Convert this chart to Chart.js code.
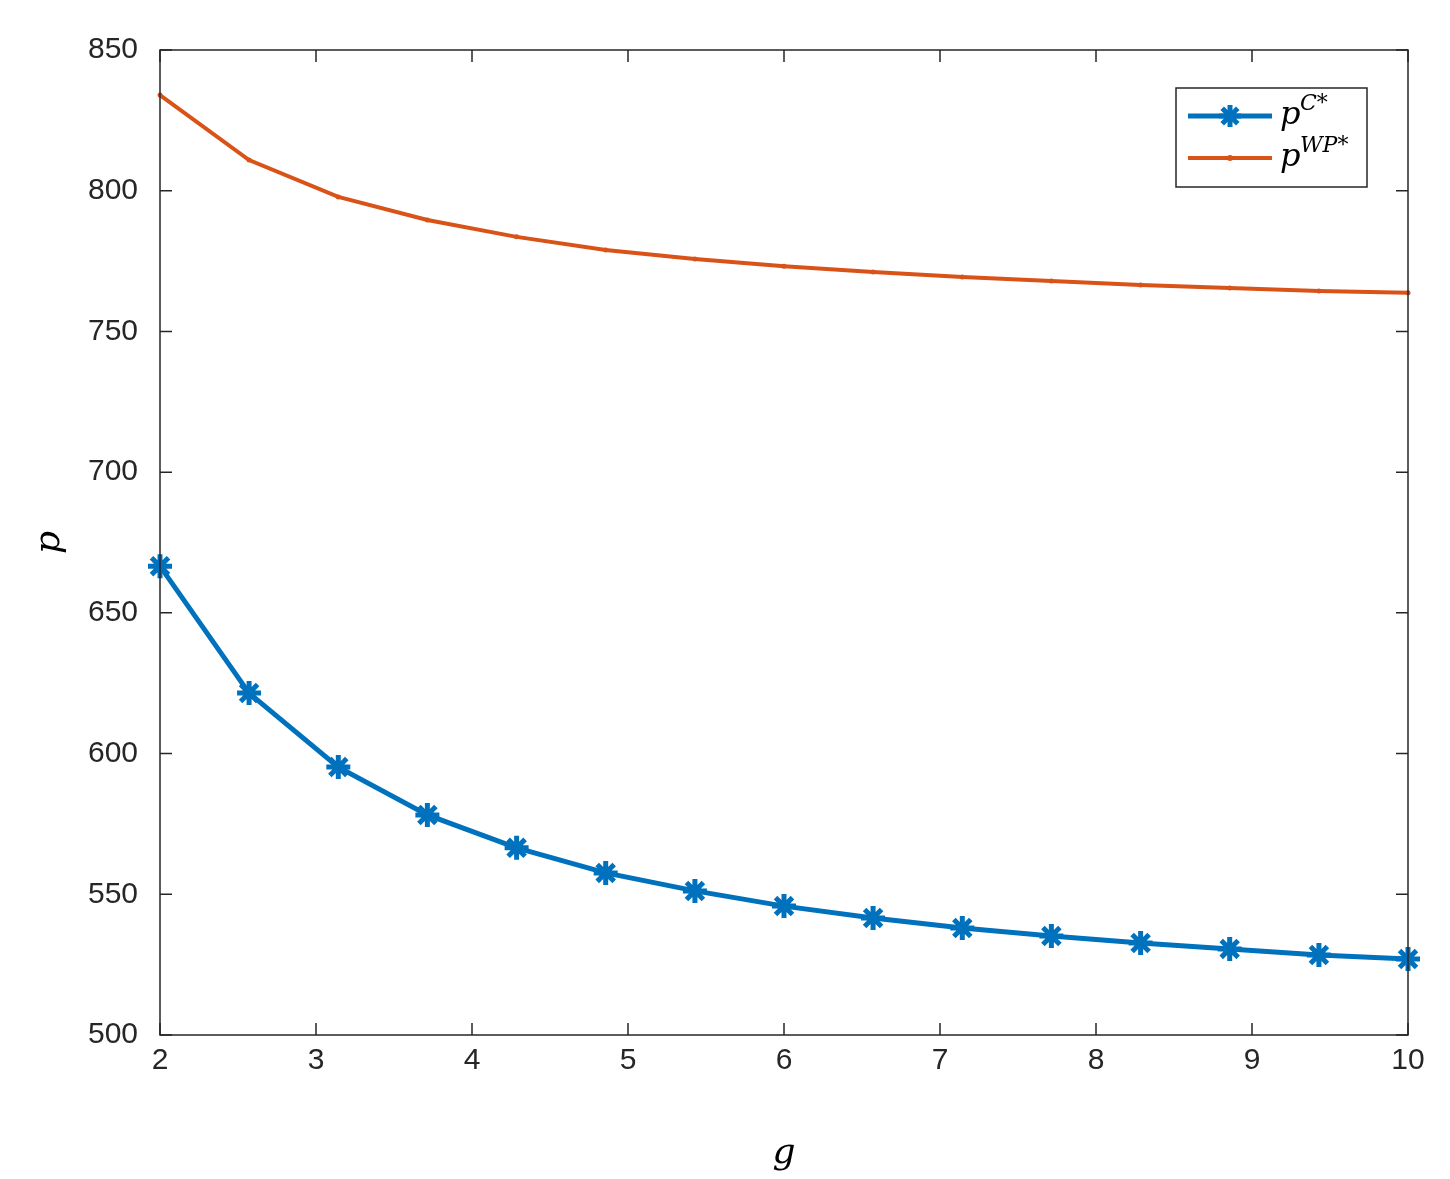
<!DOCTYPE html>
<html><head><meta charset="utf-8">
<script src="https://cdn.jsdelivr.net/npm/chart.js@4/dist/chart.umd.min.js"></script>
<style>body{margin:0;background:#fff}#wrap{width:1450px;height:1179px}</style>
</head><body><div id="wrap"><canvas id="c"></canvas></div>
<script>
const gVals = [2,2.571,3.143,3.714,4.286,4.857,5.429,6,6.571,7.143,7.714,8.286,8.857,9.429,10];
const pC = [666.6,621.5,595.2,578.2,566.5,557.6,551.2,545.8,541.6,538,535.2,532.7,530.6,528.4,527];
const pWP = [834,810.9,797.8,789.6,783.6,778.9,775.7,773.2,771.1,769.3,767.9,766.5,765.4,764.4,763.7];
const xTicks = [2,3,4,5,6,7,8,9,10];
const yTicks = [500,550,600,650,700,750,800,850];

const BLUE = '#0072BD', RED = '#D95319';
const pts = arr => arr.map((v,i)=>({x:gVals[i],y:v}));

// matlab-like inward ticks, box and legend
const boxPlugin = {
  id:'box',
  afterDraw(chart){
    const {ctx, chartArea:a, scales:{x,y}} = chart;
    ctx.save();
    ctx.strokeStyle='#262626'; ctx.lineWidth=1.5;
    ctx.strokeRect(a.left,a.top,a.right-a.left,a.bottom-a.top);
    ctx.beginPath();
    xTicks.forEach(t=>{const px=x.getPixelForValue(t);
      ctx.moveTo(px,a.bottom);ctx.lineTo(px,a.bottom-12);
      ctx.moveTo(px,a.top);ctx.lineTo(px,a.top+12);});
    yTicks.forEach(t=>{const py=y.getPixelForValue(t);
      ctx.moveTo(a.left,py);ctx.lineTo(a.left+12,py);
      ctx.moveTo(a.right,py);ctx.lineTo(a.right-12,py);});
    ctx.stroke();
    // legend
    const lx=1176, ly=88, lw=191, lh=99;
    ctx.fillStyle='#fff'; ctx.fillRect(lx,ly,lw,lh);
    ctx.strokeRect(lx,ly,lw,lh);
    const rows=[{c:BLUE,sup:'C*',w:5,star:true,yy:116},{c:RED,sup:'WP*',w:4,star:false,yy:158}];
    rows.forEach(r=>{
      ctx.strokeStyle=r.c; ctx.lineWidth=r.w;
      ctx.beginPath();ctx.moveTo(lx+12,r.yy);ctx.lineTo(lx+96,r.yy);ctx.stroke();
      if(r.star){ctx.lineWidth=5;
        for(let k=0;k<4;k++){const an=k*Math.PI/4;ctx.beginPath();
          ctx.moveTo(lx+54-11*Math.cos(an),r.yy-11*Math.sin(an));
          ctx.lineTo(lx+54+11*Math.cos(an),r.yy+11*Math.sin(an));ctx.stroke();}}
      else{ctx.fillStyle=r.c;ctx.beginPath();ctx.arc(lx+54,r.yy,3,0,7);ctx.fill();}
      ctx.fillStyle='#000';ctx.font='italic 32px "DejaVu Serif", serif';
      ctx.textBaseline='alphabetic';ctx.fillText('p',lx+104,r.yy+8);
      ctx.font='italic 22px "DejaVu Serif", serif';ctx.fillText(r.sup,lx+124,r.yy-6);
    });
    ctx.restore();
  }
};

new Chart(document.getElementById('c'),{
  type:'line',
  data:{datasets:[
    {data:pts(pC),borderColor:BLUE,backgroundColor:BLUE,borderWidth:5,pointStyle:'star',pointRadius:12,pointBorderWidth:5,pointBorderColor:BLUE,tension:0,clip:false},
    {data:pts(pWP),borderColor:RED,backgroundColor:RED,borderWidth:4,pointStyle:'circle',pointRadius:2.5,pointBorderWidth:0,tension:0,clip:false}
  ]},
  options:{
    responsive:true,maintainAspectRatio:false,animation:false,
    layout:{padding:{top:50,right:42,left:0,bottom:0}},
    plugins:{legend:{display:false},tooltip:{enabled:false}},
    scales:{
      x:{type:'linear',min:2,max:10,afterBuildTicks:s=>{s.ticks=xTicks.map(v=>({value:v}));},
        afterFit:s=>{s.height=144;},
        grid:{display:false},border:{display:false},
        ticks:{color:'#262626',font:{size:30,family:'Liberation Sans'},padding:0},
        title:{display:true,text:'g',color:'#000',font:{size:36,family:'DejaVu Serif',style:'italic'},padding:{top:20}}},
      y:{min:500,max:850,afterBuildTicks:s=>{s.ticks=yTicks.map(v=>({value:v}));},
        afterFit:s=>{s.width=160;},
        grid:{display:false},border:{display:false},
        ticks:{color:'#262626',font:{size:30,family:'Liberation Sans'},padding:14},
        title:{display:true,text:'p',color:'#000',font:{size:36,family:'DejaVu Serif',style:'italic'},padding:{top:28,bottom:0}}}
    }
  },
  plugins:[boxPlugin]
});
</script></body></html>
